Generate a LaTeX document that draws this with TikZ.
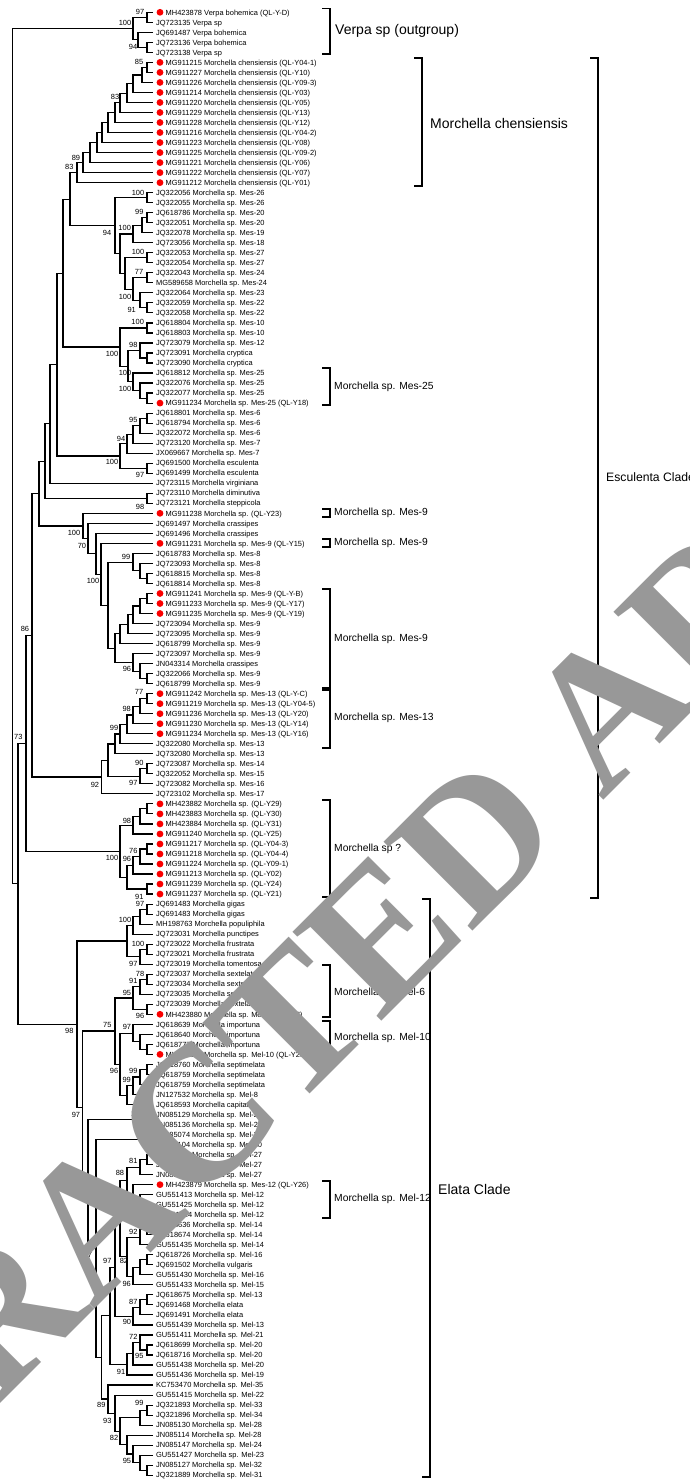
\documentclass[tikz,border=0pt]{standalone}
\usepackage{fontspec}
\setmainfont{Liberation Sans}
\newfontfamily\wmfont{Liberation Serif}
\usetikzlibrary{calc}
\definecolor{wm}{RGB}{152,152,152}
\definecolor{dotred}{RGB}{250,0,0}
\tikzset{
  br/.style={line width=1.15pt},
  bk/.style={line width=1.5pt},
  lab/.style={anchor=base west, inner sep=0pt, font=\fontsize{7.45}{8}\selectfont},
  bsl/.style={inner sep=0pt, font=\fontsize{7.45}{8}\selectfont},
  clab/.style={anchor=west, inner sep=0pt, font=\fontsize{14}{16}\selectfont},
  slab/.style={anchor=west, inner sep=0pt, font=\fontsize{10.3}{12}\selectfont},
}
\newcommand\lf[2]{\pgfmathsetmacro\yy{12.3+(#1-1)*10.02}
  \coordinate (L#1) at (153,\yy);
  \node[lab] at (156,{\yy+2.7}) {#2};}
\newcommand\lfd[2]{\pgfmathsetmacro\yy{12.3+(#1-1)*10.02}
  \coordinate (L#1) at (153,\yy);
  \fill[dotred] (160,\yy) circle (3.4pt);
  \node[lab] at (165.5,{\yy+2.7}) {#2};}
\newcommand\nd[4]{\path let \p1=(#3), \p2=(#4) in (#2pt,{0.5*(\y1+\y2)}) coordinate (#1);
  \draw[br] (#3) -| (#1) |- (#4);}
\newcommand\bs[3]{\node[bsl] at (#1,#2) {#3};}
\newcommand\brk[3]{\draw[bk] ({#1-8},#2) -- (#1,#2) -- (#1,#3) -- ({#1-8},#3);}
\begin{document}
\begin{tikzpicture}[x=1pt,y=-1pt]
\useasboundingbox (0,0) rectangle (690,1481);
\fill[white] (0,0) rectangle (690,1481);
% leaves
\lfd{1}{MH423878 Verpa bohemica (QL-Y-D)}
\lf{2}{JQ723135 Verpa sp}
\lf{3}{JQ691487 Verpa bohemica}
\lf{4}{JQ723136 Verpa bohemica}
\lf{5}{JQ723138 Verpa sp}
\lfd{6}{MG911215 Morchella chensiensis (QL-Y04-1)}
\lfd{7}{MG911227 Morchella chensiensis (QL-Y10)}
\lfd{8}{MG911226 Morchella chensiensis (QL-Y09-3)}
\lfd{9}{MG911214 Morchella chensiensis (QL-Y03)}
\lfd{10}{MG911220 Morchella chensiensis (QL-Y05)}
\lfd{11}{MG911229 Morchella chensiensis (QL-Y13)}
\lfd{12}{MG911228 Morchella chensiensis (QL-Y12)}
\lfd{13}{MG911216 Morchella chensiensis (QL-Y04-2)}
\lfd{14}{MG911223 Morchella chensiensis (QL-Y08)}
\lfd{15}{MG911225 Morchella chensiensis (QL-Y09-2)}
\lfd{16}{MG911221 Morchella chensiensis (QL-Y06)}
\lfd{17}{MG911222 Morchella chensiensis (QL-Y07)}
\lfd{18}{MG911212 Morchella chensiensis (QL-Y01)}
\lf{19}{JQ322056 Morchella sp. Mes-26}
\lf{20}{JQ322055 Morchella sp. Mes-26}
\lf{21}{JQ618786 Morchella sp. Mes-20}
\lf{22}{JQ322051 Morchella sp. Mes-20}
\lf{23}{JQ322078 Morchella sp. Mes-19}
\lf{24}{JQ723056 Morchella sp. Mes-18}
\lf{25}{JQ322053 Morchella sp. Mes-27}
\lf{26}{JQ322054 Morchella sp. Mes-27}
\lf{27}{JQ322043 Morchella sp. Mes-24}
\lf{28}{MG589658 Morchella sp. Mes-24}
\lf{29}{JQ322064 Morchella sp. Mes-23}
\lf{30}{JQ322059 Morchella sp. Mes-22}
\lf{31}{JQ322058 Morchella sp. Mes-22}
\lf{32}{JQ618804 Morchella sp. Mes-10}
\lf{33}{JQ618803 Morchella sp. Mes-10}
\lf{34}{JQ723079 Morchella sp. Mes-12}
\lf{35}{JQ723091 Morchella cryptica}
\lf{36}{JQ723090 Morchella cryptica}
\lf{37}{JQ618812 Morchella sp. Mes-25}
\lf{38}{JQ322076 Morchella sp. Mes-25}
\lf{39}{JQ322077 Morchella sp. Mes-25}
\lfd{40}{MG911234 Morchella sp. Mes-25 (QL-Y18)}
\lf{41}{JQ618801 Morchella sp. Mes-6}
\lf{42}{JQ618794 Morchella sp. Mes-6}
\lf{43}{JQ322072 Morchella sp. Mes-6}
\lf{44}{JQ723120 Morchella sp. Mes-7}
\lf{45}{JX069667 Morchella sp. Mes-7}
\lf{46}{JQ691500 Morchella esculenta}
\lf{47}{JQ691499 Morchella esculenta}
\lf{48}{JQ723115 Morchella virginiana}
\lf{49}{JQ723110 Morchella diminutiva}
\lf{50}{JQ723121 Morchella steppicola}
\lfd{51}{MG911238 Morchella sp. (QL-Y23)}
\lf{52}{JQ691497 Morchella crassipes}
\lf{53}{JQ691496 Morchella crassipes}
\lfd{54}{MG911231 Morchella sp. Mes-9 (QL-Y15)}
\lf{55}{JQ618783 Morchella sp. Mes-8}
\lf{56}{JQ723093 Morchella sp. Mes-8}
\lf{57}{JQ618815 Morchella sp. Mes-8}
\lf{58}{JQ618814 Morchella sp. Mes-8}
\lfd{59}{MG911241 Morchella sp. Mes-9 (QL-Y-B)}
\lfd{60}{MG911233 Morchella sp. Mes-9 (QL-Y17)}
\lfd{61}{MG911235 Morchella sp. Mes-9 (QL-Y19)}
\lf{62}{JQ723094 Morchella sp. Mes-9}
\lf{63}{JQ723095 Morchella sp. Mes-9}
\lf{64}{JQ618799 Morchella sp. Mes-9}
\lf{65}{JQ723097 Morchella sp. Mes-9}
\lf{66}{JN043314 Morchella crassipes}
\lf{67}{JQ322066 Morchella sp. Mes-9}
\lf{68}{JQ618799 Morchella sp. Mes-9}
\lfd{69}{MG911242 Morchella sp. Mes-13 (QL-Y-C)}
\lfd{70}{MG911219 Morchella sp. Mes-13 (QL-Y04-5)}
\lfd{71}{MG911236 Morchella sp. Mes-13 (QL-Y20)}
\lfd{72}{MG911230 Morchella sp. Mes-13 (QL-Y14)}
\lfd{73}{MG911234 Morchella sp. Mes-13 (QL-Y16)}
\lf{74}{JQ322080 Morchella sp. Mes-13}
\lf{75}{JQ732080 Morchella sp. Mes-13}
\lf{76}{JQ723087 Morchella sp. Mes-14}
\lf{77}{JQ322052 Morchella sp. Mes-15}
\lf{78}{JQ723082 Morchella sp. Mes-16}
\lf{79}{JQ723102 Morchella sp. Mes-17}
\lfd{80}{MH423882 Morchella sp. (QL-Y29)}
\lfd{81}{MH423883 Morchella sp. (QL-Y30)}
\lfd{82}{MH423884 Morchella sp. (QL-Y31)}
\lfd{83}{MG911240 Morchella sp. (QL-Y25)}
\lfd{84}{MG911217 Morchella sp. (QL-Y04-3)}
\lfd{85}{MG911218 Morchella sp. (QL-Y04-4)}
\lfd{86}{MG911224 Morchella sp. (QL-Y09-1)}
\lfd{87}{MG911213 Morchella sp. (QL-Y02)}
\lfd{88}{MG911239 Morchella sp. (QL-Y24)}
\lfd{89}{MG911237 Morchella sp. (QL-Y21)}
\lf{90}{JQ691483 Morchella gigas}
\lf{91}{JQ691483 Morchella gigas}
\lf{92}{MH198763 Morchella populiphila}
\lf{93}{JQ723031 Morchella punctipes}
\lf{94}{JQ723022 Morchella frustrata}
\lf{95}{JQ723021 Morchella frustrata}
\lf{96}{JQ723019 Morchella tomentosa}
\lf{97}{JQ723037 Morchella sextelata}
\lf{98}{JQ723034 Morchella sextelata}
\lf{99}{JQ723035 Morchella sextelata}
\lf{100}{JQ723039 Morchella sextelata}
\lfd{101}{MH423880 Morchella sp. Mel-6 (QL-Y27)}
\lf{102}{JQ618639 Morchella importuna}
\lf{103}{JQ618640 Morchella importuna}
\lf{104}{JQ618777 Morchella importuna}
\lfd{105}{MH423881 Morchella sp. Mel-10 (QL-Y28)}
\lf{106}{JQ618760 Morchella septimelata}
\lf{107}{JQ618759 Morchella septimelata}
\lf{108}{JQ618759 Morchella septimelata}
\lf{109}{JN127532 Morchella sp. Mel-8}
\lf{110}{JQ618593 Morchella capitata}
\lf{111}{JN085129 Morchella sp. Mel-26}
\lf{112}{JN085136 Morchella sp. Mel-26}
\lf{113}{JN085074 Morchella sp. Mel-27}
\lf{114}{JN085104 Morchella sp. Mel-30}
\lf{115}{JN085091 Morchella sp. Mel-27}
\lf{116}{JN085095 Morchella sp. Mel-27}
\lf{117}{JN085134 Morchella sp. Mel-27}
\lfd{118}{MH423879 Morchella sp. Mes-12 (QL-Y26)}
\lf{119}{GU551413 Morchella sp. Mel-12}
\lf{120}{GU551425 Morchella sp. Mel-12}
\lf{121}{GU551424 Morchella sp. Mel-12}
\lf{122}{JQ618636 Morchella sp. Mel-14}
\lf{123}{JQ618674 Morchella sp. Mel-14}
\lf{124}{GU551435 Morchella sp. Mel-14}
\lf{125}{JQ618726 Morchella sp. Mel-16}
\lf{126}{JQ691502 Morchella vulgaris}
\lf{127}{GU551430 Morchella sp. Mel-16}
\lf{128}{GU551433 Morchella sp. Mel-15}
\lf{129}{JQ618675 Morchella sp. Mel-13}
\lf{130}{JQ691468 Morchella elata}
\lf{131}{JQ691491 Morchella elata}
\lf{132}{GU551439 Morchella sp. Mel-13}
\lf{133}{GU551411 Morchella sp. Mel-21}
\lf{134}{JQ618699 Morchella sp. Mel-20}
\lf{135}{JQ618716 Morchella sp. Mel-20}
\lf{136}{GU551438 Morchella sp. Mel-20}
\lf{137}{GU551436 Morchella sp. Mel-19}
\lf{138}{KC753470 Morchella sp. Mel-35}
\lf{139}{GU551415 Morchella sp. Mel-22}
\lf{140}{JQ321893 Morchella sp. Mel-33}
\lf{141}{JQ321896 Morchella sp. Mel-34}
\lf{142}{JN085130 Morchella sp. Mel-28}
\lf{143}{JN085114 Morchella sp. Mel-28}
\lf{144}{JN085147 Morchella sp. Mel-24}
\lf{145}{GU551427 Morchella sp. Mel-23}
\lf{146}{JN085127 Morchella sp. Mel-32}
\lf{147}{JQ321889 Morchella sp. Mel-31}
% Verpa
\nd{v1}{147}{L1}{L2}\nd{v2}{147}{L4}{L5}\nd{v3}{138}{L3}{v2}\nd{v4}{133}{v1}{v3}
% chensiensis
\nd{c1}{147}{L6}{L7}\nd{c2}{142}{c1}{L8}\nd{c3}{133}{c2}{L9}\nd{c4}{127}{c3}{L10}
\nd{c5}{120}{c4}{L11}\nd{c6}{115}{c5}{L12}\nd{c7}{108}{c6}{L13}\nd{c8}{102}{c7}{L14}
\nd{c9}{97}{c8}{L15}\nd{c10}{90}{c9}{L16}\nd{c11}{83}{c10}{L17}\nd{c12}{77}{c11}{L18}
% Mes-26..22
\nd{a1}{147}{L19}{L20}\nd{b1}{147}{L21}{L22}\nd{b2}{142}{b1}{L23}\nd{b3}{133}{b2}{L24}
\nd{d0}{147}{L25}{L26}\nd{d1}{147}{L27}{L28}\nd{d2}{147}{L30}{L31}\nd{d3}{140}{L29}{d2}
\nd{d4}{133}{d1}{d3}\nd{d5}{125}{d0}{d4}\nd{bc}{120}{b3}{d5}\nd{n94}{115}{a1}{bc}
\nd{nP}{70}{c12}{n94}
% Mes-10..25
\nd{e1}{147}{L32}{L33}\nd{s1}{147}{L35}{L36}\nd{s2}{140}{L34}{s1}
\nd{t1}{147}{L39}{L40}\nd{t2}{140}{L38}{t1}\nd{t3}{133}{L37}{t2}
\nd{nu}{128}{s2}{t3}\nd{nR}{120}{e1}{nu}
\nd{nQ}{63}{nP}{nR}
% Mes-6/7 esculenta
\nd{x1}{147}{L41}{L42}\nd{x2}{140}{x1}{L43}\nd{x3}{133}{x2}{L44}\nd{x4}{127}{x3}{L45}
\nd{y1}{147}{L46}{L47}\nd{nW}{120}{x4}{y1}
\nd{nV}{57}{nQ}{nW}
\nd{nZ}{50}{nV}{L48}
\nd{dd}{147}{L49}{L50}
\nd{nAA}{45}{nZ}{dd}
% crassipes group
\nd{m8a}{147}{L57}{L58}\nd{m8b}{140}{L56}{m8a}\nd{m8c}{133}{L55}{m8b}
\nd{g1}{147}{L59}{L60}\nd{g2}{140}{g1}{L61}\nd{g3}{133}{g2}{L62}\nd{g4}{128}{g3}{L63}\nd{g5}{120}{g4}{L64}
\nd{h1}{147}{L67}{L68}\nd{h2}{140}{L66}{h1}\nd{h3}{133}{L65}{h2}
\nd{m9}{115}{g5}{h3}\nd{cr5}{108}{m8c}{m9}\nd{cr4}{101}{L54}{cr5}
\nd{cr3}{96}{L53}{cr4}\nd{cr2}{88}{L52}{cr3}\nd{nCR}{83}{L51}{cr2}
\nd{nAB}{39}{nAA}{nCR}
% Mes-13..17
\nd{G1}{147}{L69}{L70}\nd{G2}{140}{G1}{L71}\nd{G3}{133}{G2}{L72}\nd{G4}{127}{G3}{L73}
\nd{G5}{120}{G4}{L74}\nd{G6}{115}{G5}{L75}
\nd{k1}{147}{L76}{L77}\nd{k2}{140}{k1}{L78}
\nd{n92a}{108}{G6}{k2}\nd{n92}{101.7}{n92a}{L79}
\nd{n86}{32}{nAB}{n92}
% Morchella sp ?
\nd{p1}{147}{L80}{L81}\nd{p2}{140}{p1}{L82}\nd{p3}{133}{p2}{L83}
\nd{q1}{147}{L84}{L85}\nd{q2}{140}{q1}{L86}\nd{q3}{133}{q2}{L87}\nd{q4}{147}{L88}{L89}
\nd{q5}{127}{q3}{q4}\nd{msp}{120}{p3}{q5}
\nd{e0}{26}{n86}{msp}
% Elata
\nd{f1}{147}{L90}{L91}\nd{f2}{140}{f1}{L92}\nd{f3}{133}{f2}{L93}
\nd{f4}{147}{L94}{L95}\nd{f5}{140}{f4}{L96}\nd{gg}{127}{f3}{f5}
\nd{s97}{147}{L97}{L98}\nd{s99}{140}{s97}{L99}\nd{s100}{147}{L100}{L101}\nd{sS}{133}{s99}{s100}
\nd{i1}{147}{L104}{L105}\nd{i2}{140}{L103}{i1}\nd{i3}{133}{L102}{i2}
\nd{j1}{147}{L106}{L107}\nd{j2}{140}{j1}{L108}\nd{j3}{133}{j2}{L109}\nd{j4}{127}{j3}{L110}
\nd{ij}{120}{i3}{j4}\nd{t75}{115}{sS}{ij}
\nd{u1}{147}{L111}{L112}\nd{k76}{147}{L113}{L114}
\nd{k81a}{147}{L115}{L116}\nd{k81}{140}{k81a}{L117}
\nd{ml12a}{147}{L120}{L121}\nd{ml12b}{140}{L119}{ml12a}\nd{ml12}{133}{L118}{ml12b}
\nd{h88}{127}{k81}{ml12}
\nd{m14a}{147}{L122}{L123}\nd{m14}{140}{m14a}{L124}
\nd{m16a}{147}{L125}{L126}\nd{m16b}{140}{m16a}{L127}\nd{m16}{133}{m16b}{L128}
\nd{n82}{127}{m14}{m16}
\nd{el1}{147}{L129}{L130}\nd{el2}{140}{el1}{L131}\nd{el3}{133}{el2}{L132}
\nd{y1a}{120}{h88}{n82}
\nd{y2a}{115}{y1a}{el3}
\nd{m20a}{147}{L134}{L135}\nd{m20b}{140}{L133}{m20a}\nd{m20c}{133}{m20b}{L136}\nd{m20d}{127}{m20c}{L137}
\nd{y3a}{110}{y2a}{m20d}
\nd{K1}{147}{L140}{L141}\nd{K2}{140}{K1}{L142}
\nd{K3a}{147}{L146}{L147}\nd{K3b}{140}{L145}{K3a}\nd{K3c}{133}{L144}{K3b}\nd{K3d}{127}{L143}{K3c}
\nd{K4}{120}{K2}{K3d}\nd{K5}{115}{L139}{K4}\nd{K6}{108}{L138}{K5}
\nd{u3}{101.7}{y3a}{K6}\nd{u2}{96}{k76}{u3}
\nd{elc}{88}{u1}{u2}\nd{elb}{82.7}{t75}{elc}\nd{el}{77}{gg}{elb}
\nd{mor}{18}{e0}{el}
\nd{root}{12.7}{v4}{mor}
% bootstrap values
\bs{140}{12}{97}\bs{125}{23}{100}\bs{133}{47}{94}
\bs{139}{62}{85}\bs{115}{97}{83}\bs{76}{157.7}{89}\bs{69.3}{166.7}{83}
\bs{138}{192.7}{100}\bs{139.3}{212}{99}\bs{124.7}{228}{100}\bs{107}{233}{94}
\bs{138}{252}{100}\bs{139}{272}{77}\bs{125}{296.7}{100}\bs{131.7}{309.7}{91}
\bs{137.7}{322}{100}\bs{133.3}{344.7}{98}\bs{112}{354.3}{100}\bs{125}{373}{100}\bs{125}{389}{100}
\bs{133.3}{420}{95}\bs{121}{438.7}{94}\bs{112}{462}{100}\bs{140}{474.7}{97}
\bs{140}{506.7}{98}
\bs{74}{533}{100}\bs{82}{545.7}{70}\bs{126}{556.7}{99}\bs{93}{581}{100}
\bs{25}{629.3}{86}\bs{127}{669}{96}
\bs{139}{692}{77}\bs{126.7}{709}{98}\bs{114}{728.3}{99}\bs{18.3}{737.3}{73}
\bs{139.3}{763}{90}\bs{133.3}{783.3}{97}\bs{95}{784.7}{92}
\bs{127}{820.7}{98}\bs{133.3}{851.3}{76}\bs{112}{858}{100}\bs{127}{859.3}{96}\bs{139.3}{896.7}{91}
\bs{140}{904}{97}\bs{125}{920.3}{100}\bs{138}{944}{100}\bs{133.3}{964}{97}
\bs{140}{974}{78}\bs{133.3}{981}{91}\bs{127}{993}{95}\bs{140}{1016}{96}
\bs{69.3}{1031.3}{98}\bs{107.3}{1024.7}{75}\bs{127}{1027.3}{97}
\bs{114}{1071.3}{96}\bs{133.3}{1071.3}{99}\bs{126.7}{1080}{99}
\bs{76}{1114.7}{97}\bs{137.3}{1114}{100}\bs{139.3}{1134.3}{76}\bs{133.3}{1161}{81}\bs{120}{1173}{88}
\bs{133.3}{1232}{92}\bs{88}{1255}{97}\bs{107.3}{1261.3}{97}\bs{124}{1261.3}{82}
\bs{126.7}{1284}{96}\bs{133.3}{1302}{87}\bs{127}{1322}{90}\bs{133.3}{1337}{72}\bs{139.3}{1356}{95}
\bs{121}{1371.7}{91}\bs{139.3}{1403}{99}\bs{101.3}{1405}{89}\bs{107.3}{1420.7}{93}\bs{114}{1438}{82}\bs{127}{1460.7}{95}
% clade brackets
\brk{330}{8.3}{54}\node[clab] at (335,31) {Verpa sp (outgroup)};
\brk{422}{58}{186}\node[clab] at (430,123) {Morchella chensiensis};
\brk{598}{58}{898}\node[clab, font=\fontsize{12.2}{14}\selectfont] at (606,477) {Esculenta Clade};
\brk{430}{899}{1477}\node[clab] at (438,1189) {Elata Clade};
\brk{330}{368}{405}\node[slab] at (334,387) {Morchella sp. Mes-25};
\brk{330}{509}{517}\node[slab] at (334,513) {Morchella sp. Mes-9};
\brk{330}{539}{547}\node[slab] at (334,543) {Morchella sp. Mes-9};
\brk{330}{589}{688}\node[slab] at (334,639) {Morchella sp. Mes-9};
\brk{330}{690}{748}\node[slab] at (334,718) {Morchella sp. Mes-13};
\brk{330}{800}{897}\node[slab] at (334,849) {Morchella sp ?};
\brk{330}{965}{1017}\node[slab] at (334,993) {Morchella sp. Mel-6};
\brk{330}{1021}{1058}\node[slab] at (334,1038) {Morchella sp. Mel-10};
\brk{330}{1181}{1218}\node[slab] at (334,1199) {Morchella sp. Mel-12};
% watermark
\node[rotate=45, text=wm, inner sep=0pt, font=\wmfont\bfseries\fontsize{192}{192}\selectfont] (wm) at (422,893) {RETRACTED ARTICLE};
\end{tikzpicture}
\end{document}
